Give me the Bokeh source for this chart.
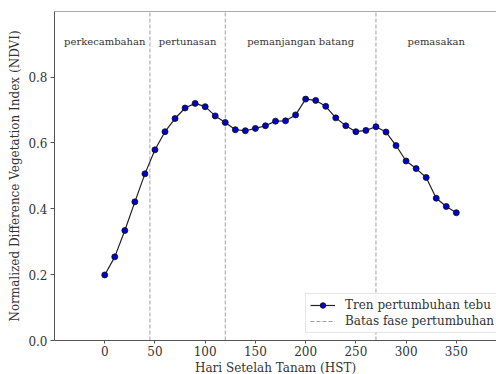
from bokeh.plotting import figure
from bokeh.models import Range1d, FixedTicker, PrintfTickFormatter, Span, Title, Legend
from bokeh.core.properties import value
from bokeh.embed import file_html
from bokeh.resources import INLINE

# Data
hst = [0, 10, 20, 30, 40, 50, 60, 70, 80, 90, 100, 110, 120, 130, 140, 150, 160, 170,
       180, 190, 200, 210, 220, 230, 240, 250, 260, 270, 280, 290, 300, 310, 320, 330, 340, 350]
ndvi = [0.199, 0.254, 0.334, 0.421, 0.506, 0.579, 0.634, 0.674, 0.706, 0.720, 0.710, 0.682,
        0.662, 0.640, 0.637, 0.644, 0.652, 0.666, 0.667, 0.685, 0.733, 0.729, 0.711, 0.676,
        0.652, 0.634, 0.638, 0.649, 0.633, 0.592, 0.545, 0.522, 0.495, 0.432, 0.407, 0.388]
phase_bounds = [45, 120, 270]
phase_names = ["perkecambahan", "pertunasan", "pemanjangan batang", "pemasakan"]
phase_x = [0, 82.5, 195, 330]
phase_y = [0.907, 0.907, 0.907, 0.907]
y_ticks = [0.0, 0.2, 0.4, 0.6, 0.8]
x_ticks = [0, 50, 100, 150, 200, 250, 300, 350]

FONT = "DejaVu Serif"
Y_TOP = 0.999

p = figure(width=496, height=374, output_backend="svg", toolbar_location=None,
           x_range=Range1d(-50, 390), y_range=Range1d(0, Y_TOP),
           min_border_left=54, min_border_right=0, min_border_top=11, min_border_bottom=33)
p.outline_line_color = None
p.grid.visible = False
p.background_fill_color = "white"

# phase boundaries
seg = p.segment(x0=phase_bounds, x1=phase_bounds, y0=[0] * 3, y1=[Y_TOP] * 3,
                line_color="#a0a0a0", line_width=1, line_dash="4 2")

ln = p.line(hst, ndvi, line_color="#222222", line_width=1.2)
sc = p.scatter(hst, ndvi, size=6, fill_color="#0000cc", line_color="#111111", line_width=0.8)

p.text(x=phase_x, y=phase_y, text=phase_names, text_align="center", text_baseline="middle",
       text_font=value(FONT), text_font_size="10px", text_color="#333333")

# top spine
p.add_layout(Span(location=Y_TOP, dimension="width", line_color="#555555", line_width=1))

for ax in (p.xaxis[0], p.yaxis[0]):
    ax.axis_line_color = "#555555"
    ax.major_tick_line_color = "#555555"
    ax.major_tick_out = 4
    ax.major_tick_in = 0
    ax.minor_tick_line_color = None
    ax.major_label_text_font = FONT
    ax.major_label_text_font_size = "12px"
    ax.major_label_text_color = "#333333"
    ax.axis_label_text_font = FONT
    ax.axis_label_text_font_size = "12px"
    ax.axis_label_text_font_style = "normal"
    ax.axis_label_text_color = "#333333"

p.yaxis.ticker = FixedTicker(ticks=y_ticks)
p.yaxis.formatter = PrintfTickFormatter(format="%.1f")
p.yaxis.major_label_standoff = 3
p.yaxis.axis_label = "Normalized Difference Vegetation Index (NDVI)"
p.yaxis.axis_label_standoff = 3

p.xaxis.ticker = FixedTicker(ticks=x_ticks)
p.xaxis.major_tick_out = 3
p.xaxis.major_label_standoff = 2

# x-axis title centred on the original (wider) axes
xt = Title(text="Hari Setelah Tanam (HST)", align="center", offset=10, standoff=0,
           text_font=FONT, text_font_size="12px", text_font_style="normal",
           text_color="#333333", text_line_height=1.0)
p.add_layout(xt, "below")

legend = Legend(items=[("Tren pertumbuhan tebu", [ln, sc]), ("Batas fase pertumbuhan", [seg])],
                location=(251, 7))
legend.label_text_font = FONT
legend.label_text_font_size = "12px"
legend.label_text_color = "#333333"
legend.glyph_width = 25
legend.glyph_height = 14
legend.label_height = 14
legend.label_standoff = 10
legend.spacing = 2
legend.padding = 4
legend.margin = 0
legend.border_line_color = "#cccccc"
legend.border_line_width = 1
legend.background_fill_alpha = 0.8
p.add_layout(legend)

open("out.html", "w").write(file_html(p, INLINE))
